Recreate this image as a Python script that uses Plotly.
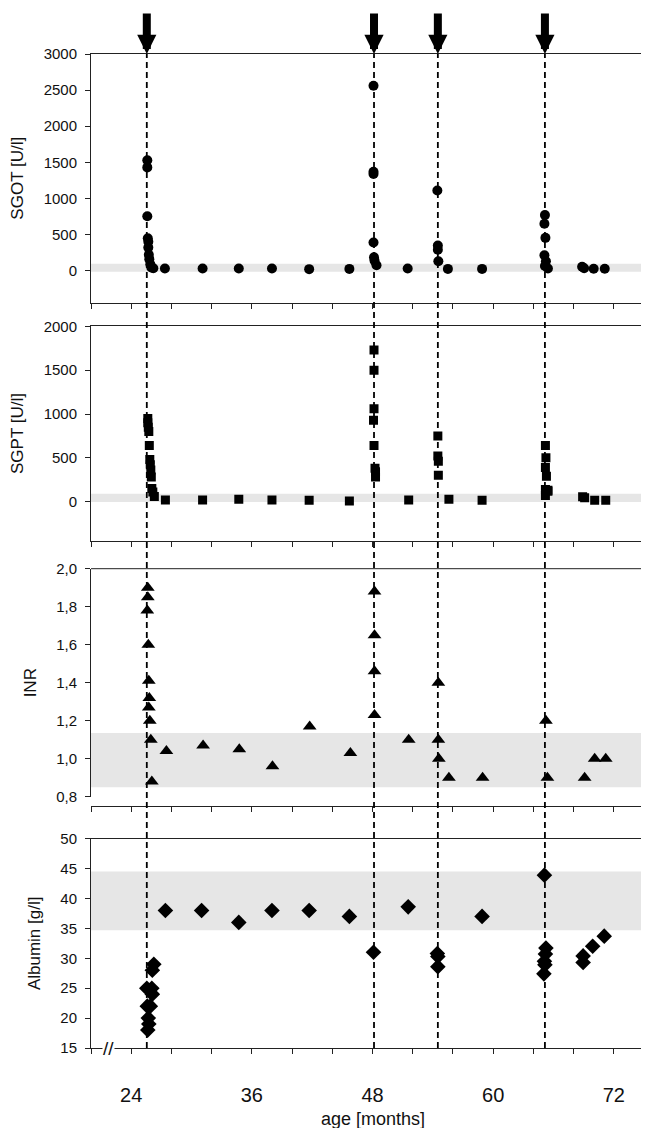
import plotly.graph_objects as go

# ---------------- data ----------------
sgot_month = [25.6, 25.6, 25.6, 25.65, 25.7, 25.7, 25.75, 25.8, 25.9, 26.0, 26.2,
              27.35, 31.1, 34.7, 38.0, 41.7, 45.7,
              48.1, 48.1, 48.1, 48.1, 48.15, 48.2, 48.4,
              51.5,
              54.45, 54.5, 54.5, 54.55,
              55.5, 58.9,
              65.15, 65.1, 65.2, 65.1, 65.25, 65.15, 65.45,
              68.85, 69.05, 70.0, 71.1]
sgot_value = [1530, 1430, 755, 450, 400, 320, 220, 160, 90, 45, 35,
              30, 30, 30, 30, 22, 25,
              2560, 1370, 1340, 390, 185, 140, 75,
              30,
              1110, 350, 290, 130,
              25, 25,
              770, 650, 455, 215, 130, 65, 30,
              55, 35, 28, 28]

sgpt_month = [25.65, 25.65, 25.7, 25.75, 25.8, 25.85, 25.9, 25.95, 26.0, 26.05, 26.15, 26.3,
              27.4, 31.1, 34.7, 38.0, 41.7, 45.7,
              48.15, 48.15, 48.15, 48.1, 48.15, 48.25, 48.3, 48.3,
              51.6,
              54.5, 54.5, 54.55, 54.55,
              55.6, 58.9,
              65.2, 65.25, 65.2, 65.3, 65.2, 65.45, 65.2, 65.45,
              68.9, 69.1, 70.1, 71.2]
sgpt_value = [950, 900, 850, 800, 640, 480, 420, 360, 280, 150, 110, 60,
              20, 20, 28, 20, 15, 8,
              1730, 1500, 1060, 930, 640, 380, 340, 280,
              20,
              750, 520, 460, 300,
              28, 15,
              640, 500, 390, 290, 140, 120, 70, 130,
              55, 45, 15, 15]

inr_month = [25.65, 25.65, 25.6, 25.7, 25.75, 25.8, 25.75, 25.85, 25.95, 26.05,
             27.5, 31.15, 34.75, 38.05, 41.75, 45.8,
             48.2, 48.2, 48.2, 48.2,
             51.6,
             54.55, 54.55, 54.6,
             55.6, 58.95,
             65.25, 65.4,
             69.1, 70.1, 71.2]
inr_value = [1.90, 1.85, 1.78, 1.60, 1.41, 1.32, 1.27, 1.20, 1.10, 0.88,
             1.04, 1.07, 1.05, 0.96, 1.17, 1.03,
             1.88, 1.65, 1.46, 1.23,
             1.10,
             1.40, 1.10, 1.00,
             0.90, 0.90,
             1.20, 0.90,
             0.90, 1.00, 1.00]

alb_month = [25.55, 26.05, 26.1, 25.6, 25.9, 25.7, 25.75, 25.65, 26.1, 26.25,
             27.4, 31.0, 34.7, 38.0, 41.7, 45.7, 48.1, 51.55,
             54.45, 54.5, 54.5,
             58.9,
             65.1, 65.25, 65.2, 65.1, 65.15, 65.05,
             68.95, 68.95, 69.9, 71.05]
alb_value = [25, 25, 24, 22, 22, 20, 19, 18, 28, 29,
             38, 38, 36, 38, 38, 37, 31, 38.6,
             30.8, 30.3, 28.6,
             37,
             43.9, 31.7, 30.7, 29.5, 28.9, 27.4,
             30.4, 29.3, 32.0, 33.7]

# treatment events (arrows + dashed lines)
event_month = [25.55, 48.15, 54.5, 65.15]

# normal ranges (grey bands)
sgot_band = [-15, 95]
sgpt_band = [-5, 90]
inr_band = [0.85, 1.135]
alb_band = [34.7, 44.5]

# axes
x_range = [20, 76]
x_tick_vals = [20, 24, 28, 32, 36, 40, 44, 48, 52, 56, 60, 64, 68, 72, 76]
x_tick_text = ['', '24', '', '', '36', '', '', '48', '', '', '60', '', '', '72', '']
axis_break_month = 21.7

sgot_range = [-440, 3000]
sgot_ticks = [0, 500, 1000, 1500, 2000, 2500, 3000]
sgpt_range = [-445, 2000]
sgpt_ticks = [0, 500, 1000, 1500, 2000]
inr_range = [0.8, 2.0]
inr_ticks = [0.8, 1.0, 1.2, 1.4, 1.6, 1.8, 2.0]
inr_tick_text = ['0,8', '1,0', '1,2', '1,4', '1,6', '1,8', '2,0']
alb_range = [15, 50]
alb_ticks = [15, 20, 25, 30, 35, 40, 45, 50]

# ---------------- figure ----------------
FONT = "Liberation Sans, Arial, sans-serif"
LINE = '#222222'

fig = go.Figure()
fig.add_trace(go.Scatter(x=sgot_month, y=sgot_value, mode='markers', xaxis='x', yaxis='y',
                         marker=dict(symbol='circle', size=10, color='black'), showlegend=False))
fig.add_trace(go.Scatter(x=sgpt_month, y=sgpt_value, mode='markers', xaxis='x2', yaxis='y2',
                         marker=dict(symbol='square', size=9, color='black'), showlegend=False))
fig.add_trace(go.Scatter(x=inr_month, y=inr_value, mode='markers', xaxis='x3', yaxis='y3',
                         marker=dict(symbol='triangle-up', size=12, color='black'), showlegend=False))
fig.add_trace(go.Scatter(x=alb_month, y=alb_value, mode='markers', xaxis='x4', yaxis='y4',
                         marker=dict(symbol='diamond', size=12, color='black'), showlegend=False))

common = dict(showline=True, linecolor=LINE, linewidth=1, ticks='outside', tickcolor=LINE,
              showgrid=False, zeroline=False)

def xax(anchor, show_labels=False, **kw):
    d = dict(common, range=x_range, tickvals=x_tick_vals, ticklen=5, mirror=True,
             showticklabels=show_labels, anchor=anchor)
    d.update(kw)
    return d

def yax(rng, domain, tickvals, title, ticktext=None, **kw):
    d = dict(common, range=rng, domain=domain, tickvals=tickvals, ticklen=5, mirror=True,
             ticklabelstandoff=5,
             tickfont=dict(family=FONT, size=15, color='#111'),
             title=dict(text=title, font=dict(family=FONT, size=17, color='#111')))
    if ticktext is not None:
        d['ticktext'] = ticktext
    d.update(kw)
    return d

fig.update_layout(
    width=649, height=1128,
    margin=dict(l=83, r=3, t=46, b=88),
    paper_bgcolor='white', plot_bgcolor='white',
    font=dict(family=FONT, color='#111'),
    xaxis=xax('y'),
    xaxis2=xax('y2'),
    xaxis3=xax('free', position=0.2432, mirror=False),
    xaxis4=xax('y4', show_labels=True, ticktext=x_tick_text, ticklabelstandoff=24,
               tickfont=dict(family=FONT, size=20, color='#111')),
    yaxis=yax(sgot_range, [0.750, 1.0], sgot_ticks, 'SGOT [U/l]', anchor='x'),
    yaxis2=yax(sgpt_range, [0.5104, 0.7260], sgpt_ticks, 'SGPT [U/l]', anchor='x2'),
    yaxis3=yax(inr_range, [0.2528, 0.4822], inr_ticks, 'INR', ticktext=inr_tick_text, anchor='x3'),
    yaxis4=yax(alb_range, [0.0, 0.2106], alb_ticks, 'Albumin [g/l]', anchor='x4'),
)

shapes = []
for i, band in enumerate([sgot_band, sgpt_band, inr_band, alb_band]):
    sfx = '' if i == 0 else str(i + 1)
    shapes.append(dict(type='rect', xref='x%s domain' % sfx, yref='y%s' % sfx,
                       x0=0, x1=1, y0=band[0], y1=band[1],
                       fillcolor='#e6e6e6', line=dict(width=0), layer='below'))
# top border of INR panel
shapes.append(dict(type='line', xref='x3 domain', yref='y3 domain', x0=0, x1=1, y0=1, y1=1,
                   line=dict(color=LINE, width=1)))
for m in event_month:
    shapes.append(dict(type='line', xref='x', yref='paper', x0=m, x1=m, y0=0, y1=1,
                       line=dict(color='black', width=1.8, dash='6px,4px'), layer='above'))
fig.update_layout(shapes=shapes)

annotations = []
for m in event_month:
    annotations.append(dict(x=m, xref='x', y=1, yref='paper', ax=0, ay=-42,
                            axref='pixel', ayref='pixel', text='', showarrow=True,
                            arrowhead=2, arrowwidth=8, arrowsize=0.48, arrowcolor='black',
                            standoff=0))
annotations.append(dict(x=axis_break_month, xref='x4', y=alb_range[0], yref='y4', text='//',
                        showarrow=False, font=dict(family=FONT, size=19, color='#111'),
                        bgcolor='white', borderpad=0))
annotations.append(dict(x=0.5, xref='paper', y=-0.0714, yref='paper', text='age [months]',
                        showarrow=False, yanchor='middle', borderpad=0,
                        font=dict(family=FONT, size=18, color='#111')))
fig.update_layout(annotations=annotations)

fig.write_html("out.html")
